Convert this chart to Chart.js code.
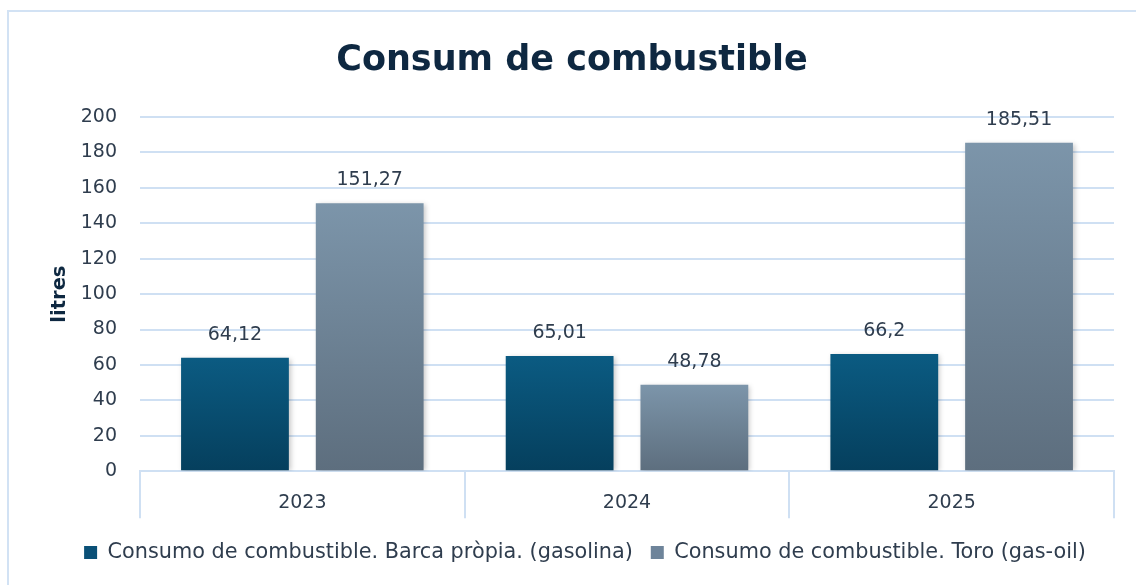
<!DOCTYPE html>
<html>
<head>
<meta charset="utf-8">
<script src="https://cdn.jsdelivr.net/npm/chart.js@4.4.1/dist/chart.umd.min.js"></script>
<style>
  html, body { margin: 0; padding: 0; background: #ffffff; overflow: hidden; }
  #wrap { position: absolute; left: 0; top: 0; width: 1136px; height: 585px; }
</style>
</head>
<body>
<div id="wrap"><canvas id="c" width="1136" height="585"></canvas></div>
<script>
const categories = ['2023', '2024', '2025'];
const seriesNames = [
  'Consumo de combustible. Barca pròpia. (gasolina)',
  'Consumo de combustible. Toro (gas-oil)'
];
const barcaValues = [64.12, 65.01, 66.2];
const toroValues = [151.27, 48.78, 185.51];
const yTicks = [0, 20, 40, 60, 80, 100, 120, 140, 160, 180, 200];
const chartTitle = 'Consum de combustible';
const yTitle = 'litres';

const GRID = '#cfe0f3';
const TEXT = '#2f3d4e';
const DARK = '#0E2841';
const FONT = "'DejaVu Sans', sans-serif";

function gradientFor(top, bottom) {
  return function (ctx) {
    const chart = ctx.chart;
    if (!chart.chartArea || ctx.type !== 'data') return bottom;
    const ys = chart.scales.y;
    const yTop = ys.getPixelForValue(ctx.raw);
    const yBot = ys.getPixelForValue(0);
    const g = chart.ctx.createLinearGradient(0, yTop, 0, yBot);
    g.addColorStop(0, top);
    g.addColorStop(1, bottom);
    return g;
  };
}

const frame = {
  id: 'frame',
  beforeDraw(chart) {
    const c = chart.ctx;
    c.save();
    c.fillStyle = '#d2e2f4';
    c.fillRect(7, 10, 2, 600);
    c.fillRect(7, 10, 1200, 2);
    c.fillStyle = DARK;
    c.font = "bold 35px " + FONT;
    c.textAlign = 'center';
    c.textBaseline = 'alphabetic';
    c.fillText(chartTitle, 572, 70);
    c.restore();
  }
};

const shadow = {
  id: 'shadow',
  beforeDatasetsDraw(chart) {
    const c = chart.ctx;
    c.save();
    c.shadowColor = 'rgba(0,0,0,0.22)';
    c.shadowBlur = 5;
    c.shadowOffsetX = 2;
    c.shadowOffsetY = 1;
  },
  afterDatasetsDraw(chart) {
    chart.ctx.restore();
  }
};

const valueLabels = {
  id: 'valueLabels',
  afterDraw(chart) {
    const c = chart.ctx;
    c.save();
    c.fillStyle = TEXT;
    c.font = "19px " + FONT;
    c.textAlign = 'center';
    c.textBaseline = 'alphabetic';
    chart.data.datasets.forEach((ds, di) => {
      const meta = chart.getDatasetMeta(di);
      meta.data.forEach((bar, i) => {
        const txt = String(ds.data[i]).replace('.', ',');
        c.fillText(txt, bar.x, bar.y - 18);
      });
    });
    c.restore();
  }
};

new Chart(document.getElementById('c'), {
  type: 'bar',
  data: {
    labels: categories,
    datasets: [
      {
        label: seriesNames[0],
        data: barcaValues,
        backgroundColor: gradientFor('#0b5b82', '#053f5d'),
        legendColor: '#0a5077',
        categoryPercentage: 0.83,
        barPercentage: 0.8
      },
      {
        label: seriesNames[1],
        data: toroValues,
        backgroundColor: gradientFor('#7c95aa', '#5d6e7e'),
        legendColor: '#6e849a',
        categoryPercentage: 0.83,
        barPercentage: 0.8
      }
    ]
  },
  options: {
    responsive: false,
    animation: false,
    devicePixelRatio: 1,
    layout: { padding: { top: 117, left: 56, right: 22, bottom: 12 } },
    plugins: {
      title: { display: false },
      tooltip: { enabled: false },
      legend: {
        position: 'bottom',
        labels: {
          font: { family: FONT, size: 20.8 },
          color: TEXT,
          boxWidth: 13,
          boxHeight: 13,
          padding: 18,
          generateLabels(chart) {
            return chart.data.datasets.map((ds, i) => ({
              text: ds.label,
              fillStyle: ds.legendColor,
              strokeStyle: ds.legendColor,
              lineWidth: 0,
              hidden: false,
              datasetIndex: i,
              fontColor: TEXT
            }));
          }
        }
      }
    },
    scales: {
      x: {
        grid: {
          offset: true,
          drawOnChartArea: false,
          drawTicks: true,
          tickLength: 47,
          color: GRID,
          lineWidth: 2
        },
        border: { display: true, color: GRID, width: 2 },
        ticks: {
          font: { family: FONT, size: 19 },
          color: TEXT,
          padding: -27
        },
        afterFit(s) { s.height = 53; }
      },
      y: {
        min: 0,
        max: 200,
        afterBuildTicks(s) { s.ticks = yTicks.map(v => ({ value: v })); },
        grid: { color: GRID, lineWidth: 2, drawTicks: false },
        border: { display: false },
        ticks: {
          font: { family: FONT, size: 19 },
          color: TEXT,
          padding: 23
        },
        title: {
          display: true,
          text: yTitle,
          color: DARK,
          font: { family: FONT, size: 19.5, weight: 'bold', lineHeight: 0.4 },
          padding: 0
        },
        afterFit(s) { s.width = 84; }
      }
    }
  },
  plugins: [frame, shadow, valueLabels]
});
</script>
</body>
</html>
